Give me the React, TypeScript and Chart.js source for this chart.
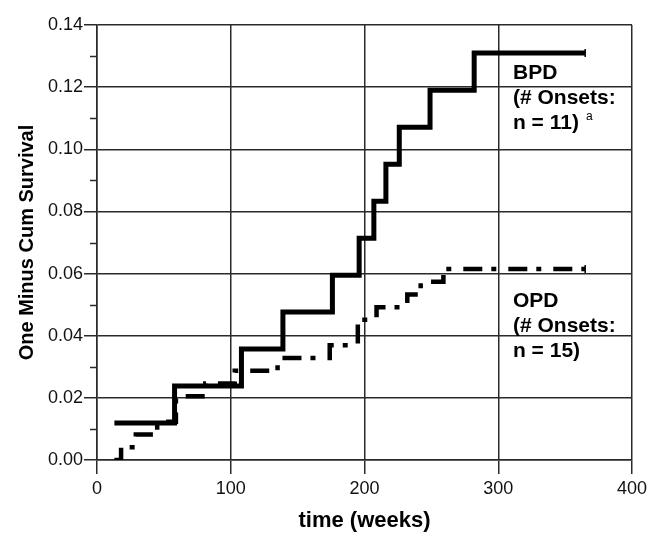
import React, { useEffect, useRef } from 'react';
import { Chart, registerables } from 'chart.js';

Chart.register(...registerables);

// BPD: one minus cumulative survival (event times in weeks)
const bpdWeeks = [13, 58, 108, 139, 176, 196, 207, 216, 226, 249, 282, 365];
const bpdValues = [0.0119, 0.0238, 0.0357, 0.0476, 0.0595, 0.0714, 0.0833, 0.0952, 0.1071, 0.119, 0.131, 0.131];

// OPD
const opdWeeks = [13, 18, 29, 45, 59, 81, 103, 135, 174, 195, 209, 232, 242, 259, 365];
const opdValues = [0, 0.0041, 0.0082, 0.0123, 0.0205, 0.0246, 0.0287, 0.0328, 0.0369, 0.0451, 0.0492, 0.0533, 0.0574, 0.0615, 0.0615];

const xTickValues = [0, 100, 200, 300, 400];
const yMajorTicks = [0, 0.02, 0.04, 0.06, 0.08, 0.1, 0.12, 0.14];
const yMinorTicks = [0.01, 0.03, 0.05, 0.07, 0.09, 0.11, 0.13];

const bpdLabelLines = ['BPD', '(# Onsets:', 'n = 11)'];
const opdLabelLines = ['OPD', '(# Onsets:', 'n = 15)'];
const bpdFootnote = 'a';

const FONT = '"Liberation Sans", Arial, Helvetica, sans-serif';
const INK = '#000';
const GRID = '#2a2a2a';

const toPoints = (xs: number[], ys: number[]) => xs.map((x, i) => ({ x, y: ys[i] }));

const minorTickPlugin = {
  id: 'minorTicks',
  afterDraw(chart: any) {
    const { ctx, chartArea, scales } = chart;
    const y = scales.y;
    ctx.save();
    ctx.strokeStyle = GRID;
    ctx.lineWidth = 1.5;
    yMinorTicks.forEach((v) => {
      const py = Math.round(y.getPixelForValue(v)) + 0.5;
      ctx.beginPath();
      ctx.moveTo(chartArea.left - 7, py);
      ctx.lineTo(chartArea.left, py);
      ctx.stroke();
    });
    ctx.restore();
  },
};

const labelPlugin = {
  id: 'groupLabels',
  afterDraw(chart: any) {
    const { ctx, scales } = chart;
    const xs = scales.x;
    const ys = scales.y;
    ctx.save();
    ctx.fillStyle = INK;
    ctx.textBaseline = 'middle';
    ctx.textAlign = 'left';
    ctx.font = `bold 21px ${FONT}`;
    const lx = xs.getPixelForValue(311);
    const bpdTop = ys.getPixelForValue(0.1245);
    bpdLabelLines.forEach((t, i) => ctx.fillText(t, lx, bpdTop + i * 25));
    const opdTop = ys.getPixelForValue(0.0512);
    opdLabelLines.forEach((t, i) => ctx.fillText(t, lx, opdTop + i * 25));
    // footnote marker
    const lastW = ctx.measureText(bpdLabelLines[2]).width;
    ctx.font = `12px ${FONT}`;
    ctx.fillText(bpdFootnote, lx + lastW + 7, bpdTop + 2 * 25 - 6);
    ctx.restore();
  },
};

export default function App() {
  const canvasRef = useRef<HTMLCanvasElement | null>(null);

  useEffect(() => {
    if (!canvasRef.current) return;
    const lastIdx = (arr: number[]) => arr.length - 1;
    const chart = new Chart(canvasRef.current, {
      type: 'line',
      data: {
        datasets: [
          {
            label: 'BPD',
            data: toPoints(bpdWeeks, bpdValues),
            stepped: 'before',
            borderColor: INK,
            backgroundColor: INK,
            borderWidth: 5,
            fill: false,
            pointRadius: bpdWeeks.map((_, i) => (i === lastIdx(bpdWeeks) ? 4 : 0)),
            pointStyle: 'line',
            rotation: 90,
            pointBorderWidth: 1.5,
            pointBorderColor: INK,
          },
          {
            label: 'OPD',
            data: toPoints(opdWeeks, opdValues),
            stepped: 'before',
            borderColor: INK,
            backgroundColor: INK,
            borderWidth: 4.5,
            borderDash: [19, 9, 5, 12],
            fill: false,
            pointRadius: opdWeeks.map((_, i) => (i === lastIdx(opdWeeks) ? 4 : 0)),
            pointStyle: 'line',
            rotation: 90,
            pointBorderWidth: 1.5,
            pointBorderColor: INK,
          },
        ],
      },
      options: {
        responsive: false,
        animation: false,
        layout: { padding: { top: 25, right: 28, left: 0, bottom: 0 } },
        plugins: {
          legend: { display: false },
          tooltip: { enabled: false },
        },
        scales: {
          x: {
            type: 'linear',
            min: 0,
            max: 400,
            afterBuildTicks: (scale: any) => {
              scale.ticks = xTickValues.map((v) => ({ value: v }));
            },
            afterFit: (scale: any) => {
              scale.height = 84;
            },
            ticks: {
              color: '#111',
              font: { family: FONT, size: 18 },
              padding: 4,
              maxRotation: 0,
              callback: (v: any) => String(v),
            },
            grid: {
              color: GRID,
              lineWidth: 1.5,
              tickColor: GRID,
              tickLength: 14,
            },
            border: { color: GRID, width: 1.5 },
            title: {
              display: true,
              text: 'time (weeks)',
              color: INK,
              font: { family: FONT, size: 22, weight: 'bold' },
              padding: { top: 0, bottom: 10 },
            },
          },
          y: {
            type: 'linear',
            min: 0,
            max: 0.14,
            afterBuildTicks: (scale: any) => {
              scale.ticks = yMajorTicks.map((v) => ({ value: v }));
            },
            afterFit: (scale: any) => {
              scale.width = 97;
            },
            ticks: {
              color: '#111',
              font: { family: FONT, size: 18 },
              padding: 1,
              callback: (v: any) => Number(v).toFixed(2),
            },
            grid: {
              color: GRID,
              lineWidth: 1.5,
              tickColor: GRID,
              tickLength: 13,
            },
            border: { color: GRID, width: 1.5 },
            title: {
              display: true,
              text: 'One Minus Cum Survival',
              color: INK,
              font: { family: FONT, size: 20, weight: 'bold' },
              padding: { top: 15, bottom: 0 },
            },
          },
        },
      },
      plugins: [minorTickPlugin, labelPlugin],
    } as any);
    return () => chart.destroy();
  }, []);

  return (
    <div style={{ position: 'fixed', left: 0, top: 0, width: 660, height: 544, background: '#fff' }}>
      <canvas ref={canvasRef} width={660} height={544} style={{ display: 'block' }} />
    </div>
  );
}
